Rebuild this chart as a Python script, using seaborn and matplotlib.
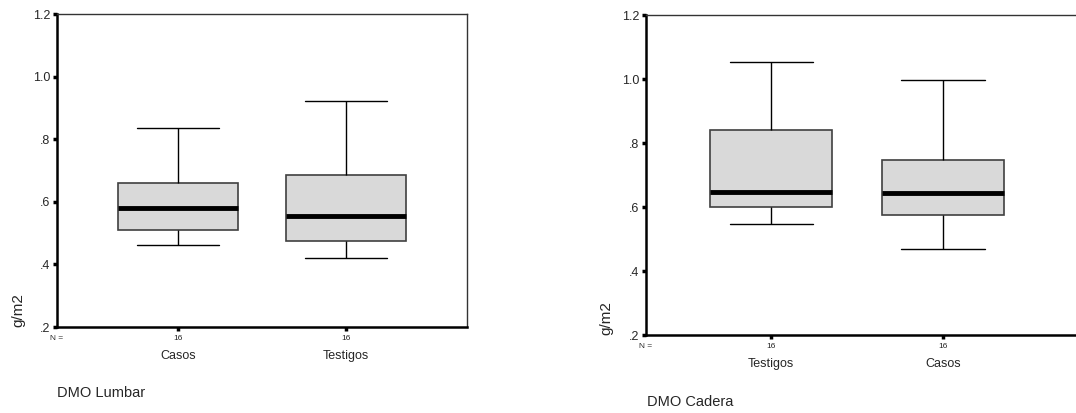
import matplotlib
matplotlib.use("Agg")
import matplotlib.pyplot as plt
import seaborn as sns
import pandas as pd

sns.set_style("white")
plt.rcParams['font.family'] = ['Liberation Sans', 'DejaVu Sans']

# Five-number summaries: [min, Q1, median, Q3, max]
lumbar_groups = ["Casos", "Testigos"]
lumbar_casos = [0.461, 0.511, 0.580, 0.660, 0.835]
lumbar_testigos = [0.420, 0.476, 0.556, 0.685, 0.922]
lumbar_n = [16, 16]

cadera_groups = ["Testigos", "Casos"]
cadera_testigos = [0.546, 0.600, 0.646, 0.842, 1.054]
cadera_casos = [0.469, 0.576, 0.643, 0.746, 0.998]
cadera_n = [16, 16]

y_ticks = [0.2, 0.4, 0.6, 0.8, 1.0, 1.2]
y_ticklabels = [".2", ".4", ".6", ".8", "1.0", "1.2"]

def long_df(groups, series):
    rows = []
    for g, vals in zip(groups, series):
        for v in vals:
            rows.append({"grupo": g, "valor": v})
    return pd.DataFrame(rows)

df_l = long_df(lumbar_groups, [lumbar_casos, lumbar_testigos])
df_c = long_df(cadera_groups, [cadera_testigos, cadera_casos])

fig = plt.figure(figsize=(10.76, 4.13), dpi=100)
W, H = 1076, 413

def px_axes(x0, x1, y0, y1):
    return fig.add_axes([x0 / W, 1 - y1 / H, (x1 - x0) / W, (y1 - y0) / H])

ax1 = px_axes(57, 467, 14, 327)
ax2 = px_axes(646, 1078, 15, 335)

def draw(ax, df, groups, ns, xlim, right_spine=True):
    sns.boxplot(data=df, x="grupo", y="valor", order=groups, ax=ax,
                color="#d9d9d9", width=0.71, whis=(0, 100),
                linecolor="black", linewidth=1.0,
                boxprops=dict(edgecolor="#404040", linewidth=1.2),
                medianprops=dict(color="black", linewidth=3.5),
                whiskerprops=dict(color="black", linewidth=1.0),
                capprops=dict(color="black", linewidth=1.0),
                showfliers=False)
    # cap widths ~0.68 of box
    for line in ax.lines:
        xd = line.get_xdata()
        yd = line.get_ydata()
        if len(xd) == 2 and yd[0] == yd[1] and abs(xd[1] - xd[0]) > 0 and line.get_linewidth() < 2:
            c = (xd[0] + xd[1]) / 2
            half = 0.71 * 0.68 / 2
            line.set_xdata([c - half, c + half])
    ax.set_ylim(0.2, 1.2)
    ax.set_xlim(*xlim)
    ax.set_yticks(y_ticks)
    ax.set_yticklabels(y_ticklabels)
    ax.set_xlabel("")
    ax.set_ylabel("")
    ax.set_xticks(range(len(groups)))
    ax.set_xticklabels([str(n) for n in ns])
    ax.tick_params(axis="y", direction="out", length=3, width=2.5, labelsize=9, pad=2, left=True, color="black")
    ax.tick_params(axis="x", direction="out", length=3, width=2.5, labelsize=6, pad=3, bottom=True, color="black")
    for s in ["left", "bottom"]:
        ax.spines[s].set_linewidth(1.8)
        ax.spines[s].set_color("black")
    for s in ["top", "right"]:
        ax.spines[s].set_linewidth(1.0)
        ax.spines[s].set_color("#333333")
    ax.spines["right"].set_visible(right_spine)
    # group names under N
    for i, g in enumerate(groups):
        ax.annotate(g, xy=(i, 0), xycoords=("data", "axes fraction"),
                    xytext=(0, -21), textcoords="offset points",
                    ha="center", va="center", fontsize=9)
    ax.annotate("N =", xy=(0, 0), xycoords="axes fraction",
                xytext=(0, -8.5), textcoords="offset points",
                ha="center", va="center", fontsize=6)

draw(ax1, df_l, lumbar_groups, lumbar_n, (-0.72, 1.72))
draw(ax2, df_c, cadera_groups, cadera_n, (-0.727, 1.785), right_spine=False)

fig.text(18 / W, 1 - 327 / H, "g/m2", rotation=90, ha="center", va="bottom", fontsize=11)
fig.text(606 / W, 1 - 335 / H, "g/m2", rotation=90, ha="center", va="bottom", fontsize=11)
fig.text(57 / W, 1 - 393 / H, "DMO Lumbar", ha="left", va="center", fontsize=10.5)
fig.text(647 / W, 1 - 402 / H, "DMO Cadera", ha="left", va="center", fontsize=10.5)

fig.savefig("out.png", dpi=100)
